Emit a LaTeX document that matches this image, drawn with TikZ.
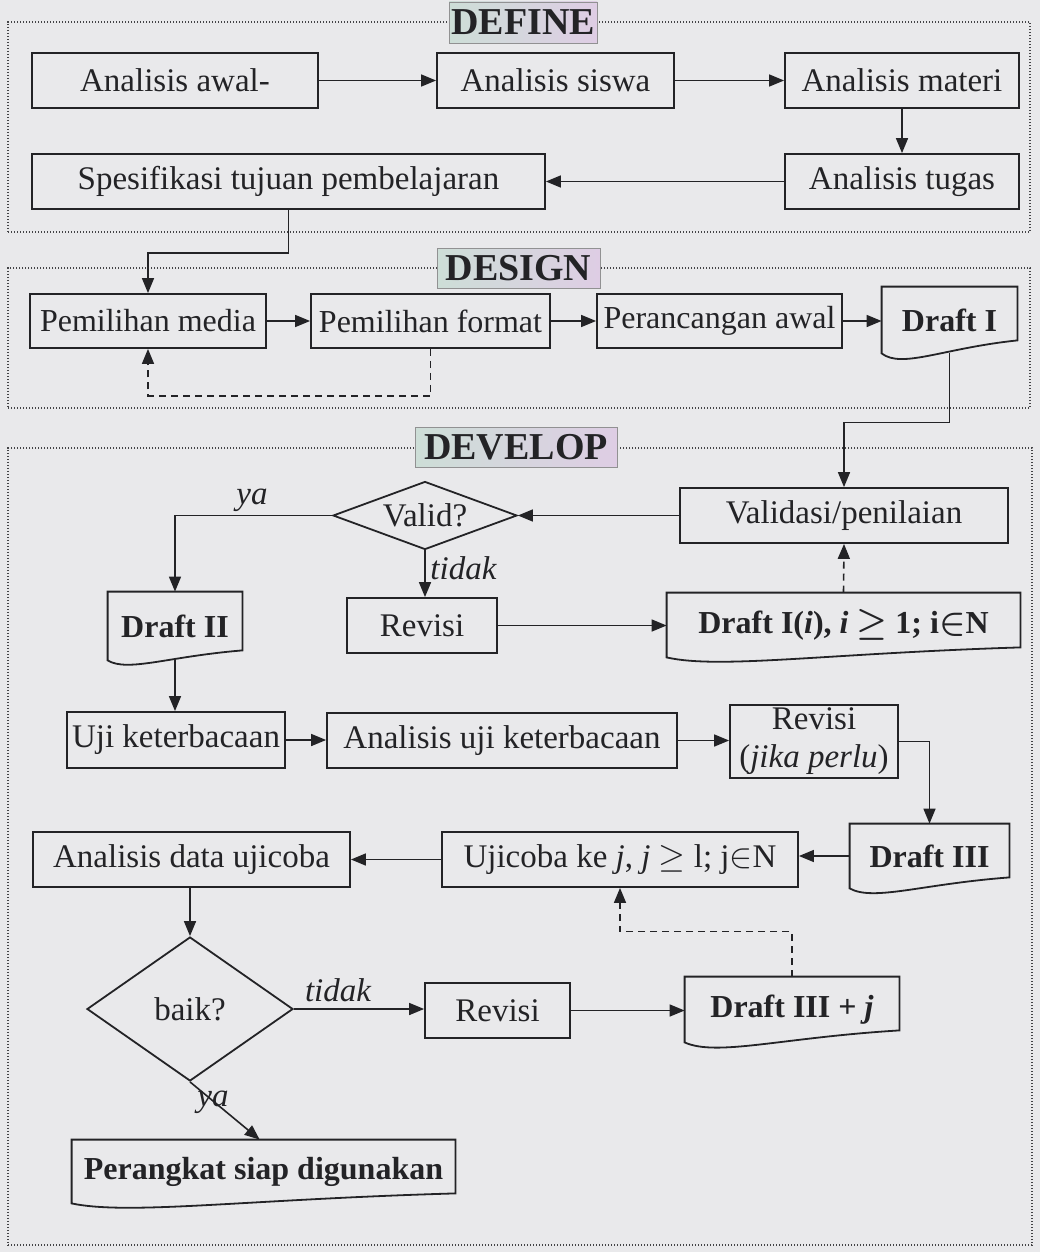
\documentclass[tikz,border=0pt]{standalone}
\usepackage{fontspec}
\setmainfont{Liberation Serif}
\usetikzlibrary{arrows.meta,shapes.geometric,fit,calc}
\definecolor{bg}{RGB}{233,233,235}
\definecolor{ink}{RGB}{35,35,38}
\definecolor{tleft}{RGB}{205,222,215}
\definecolor{tright}{RGB}{222,205,228}
\newcommand\bodyfont{\fontsize{16.5}{19}\selectfont}
\tikzset{
  box/.style={draw=ink, line width=0.9pt, inner sep=0pt, align=center, text=ink, font=\bodyfont},
  docnode/.style={inner sep=0pt, align=center, text=ink, font=\fontsize{16}{19}\selectfont\bfseries},
  arr/.style={draw=ink, line width=0.8pt, -{Triangle[length=7.5pt,width=6pt]}},
  darr/.style={arr, dash pattern=on 3.5pt off 2.5pt},
  frame/.style={draw=ink!85, line width=0.8pt, dash pattern=on 0.6pt off 0.9pt, inner sep=0pt},
  title/.style={draw=ink!50, line width=0.4pt, left color=tleft, right color=tright, text=ink,
    font=\fontsize{19}{22}\selectfont\bfseries, inner sep=0pt},
  dec/.style={diamond, draw=ink, line width=0.9pt, inner sep=0pt, text=ink, font=\bodyfont},
  lab/.style={font=\bodyfont\itshape, text=ink, inner sep=1pt},
}
\newcommand\docdraw[2]{%
  \draw[draw=ink,line width=0.9pt] (#1.south west) -- (#1.north west) -- (#1.north east)
   -- ([yshift=#2]#1.south east)
   .. controls ($(#1.south west)!0.45!(#1.south east)+(0pt,0.4*#2)$)
   and ($(#1.south west)!0.15!(#1.south east)+(0pt,-1.2*#2)$) .. cycle;}
\begin{document}
\begin{tikzpicture}[x=0.5pt,y=-0.5pt,font=\bodyfont]
\fill[bg] (0,0) rectangle (1040,1252);
\useasboundingbox (0,0) rectangle (1040,1252);

% frames
\node[frame, fit={(8,22)(1030,232)}] (fdef) {};
\node[frame, fit={(8,268)(1030,408)}] (fdes) {};
\node[frame, fit={(8,448)(1032,1245)}] (fdev) {};
\node[title, minimum width=74pt, minimum height=20.5pt] (tdef) at (523,22.5) {DEFINE};
\node[title, minimum width=81.5pt, minimum height=20pt] (tdes) at (518.5,268) {DESIGN};
\node[title, minimum width=101pt, minimum height=20pt] (tdev) at (516,447) {DEVELOP};

% DEFINE
\node[box, minimum width=143pt, minimum height=27.5pt] (aw) at (175,80.5) {Analisis awal-};
\node[box, minimum width=118.5pt, minimum height=27.5pt] (as) at (555.5,80.5) {Analisis siswa};
\node[box, minimum width=117pt, minimum height=27.5pt] (am) at (902,80.5) {Analisis materi};
\node[box, minimum width=117pt, minimum height=27.5pt] (at) at (902,181.5) {Analisis tugas};
\node[box, minimum width=256.5pt, minimum height=27.5pt] (sp) at (288.5,181.5) {Spesifikasi tujuan pembelajaran};

% DESIGN
\node[box, minimum width=118pt, minimum height=27pt, font=\fontsize{16}{19}\selectfont] (pm) at (148,321) {Pemilihan media};
\node[box, minimum width=119.5pt, minimum height=27pt, font=\fontsize{16}{19}\selectfont] (pf) at (430.5,321) {Pemilihan format};
\node[box, minimum width=122.5pt, minimum height=27pt, font=\fontsize{16}{19}\selectfont] (pa) at (719.5,321) {Perancangan awal};
\node[docnode, minimum width=67.5pt, minimum height=33pt] (d1) at (949.5,320) {Draft I};
\docdraw{d1}{6.5pt}

% DEVELOP
\node[box, minimum width=164pt, minimum height=27.5pt] (val) at (844,515.5) {Validasi/penilaian};
\node[dec, minimum width=92pt, minimum height=34pt, aspect=2.7] (vq) at (425,515.5) {Valid?};
\node[docnode, minimum width=67pt, minimum height=34pt] (d2) at (175,626) {Draft II};
\docdraw{d2}{5pt}
\node[box, minimum width=75pt, minimum height=27.5pt] (rv1) at (422,625.5) {Revisi};
\node[docnode, minimum width=176.5pt, minimum height=32pt] (di) at (843.5,625) {Draft I(\textit{i}), \textit{i} {\boldmath$\geq$} 1; i{\boldmath$\in$}N};
\docdraw{di}{5pt}
\node[box, minimum width=109pt, minimum height=28pt] (uk) at (176,740) {Uji keterbacaan};
\node[box, minimum width=175pt, minimum height=27.5pt] (au) at (502,740.5) {Analisis uji keterbacaan};
\node[box, minimum width=84pt, minimum height=36.5pt] (rj) at (814,741.5) {Revisi\\(\textit{jika perlu})};
\node[docnode, minimum width=79.5pt, minimum height=32pt] (d3) at (929.5,856) {Draft III};
\docdraw{d3}{5.5pt}
\node[box, minimum width=178pt, minimum height=27.5pt] (uj) at (620,859.5) {Ujicoba ke \textit{j}, \textit{j} $\geq$ l; j$\in$N};
\node[box, minimum width=158.5pt, minimum height=27.5pt] (ad) at (191.5,859.5) {Analisis data ujicoba};
\node[dec, minimum width=103pt, minimum height=72pt, aspect=1.43] (bq) at (190,1009) {baik?};
\node[box, minimum width=72.5pt, minimum height=27.5pt] (rv2) at (497.5,1010.5) {Revisi};
\node[docnode, minimum width=107pt, minimum height=32.5pt] (d3j) at (792,1009.5) {Draft III + \textit{j}};
\docdraw{d3j}{6pt}
\node[docnode, minimum width=191.5pt, minimum height=31.5pt] (ps) at (263.5,1171.5) {Perangkat siap digunakan};
\docdraw{ps}{5pt}

% connectors DEFINE
\draw[arr] (aw.east) -- (as.west);
\draw[arr] (as.east) -- (am.west);
\draw[arr] (am.south) -- (at.north);
\draw[arr] (at.west) -- (sp.east);
\draw[arr] (sp.south) -- ++(0,43) -| (pm.north);

% connectors DESIGN
\draw[arr] (pm.east) -- (pf.west);
\draw[arr] (pf.east) -- (pa.west);
\draw[arr] (pa.east) -- (pa.east -| d1.west);
\draw[darr] (pf.south) -- ++(0,47) -| (pm.south);
\draw[arr] (d1.south) -- ++(0,69) -| (val.north);

% connectors DEVELOP
\draw[arr] (val.west) -- (val.west -| vq.east);
\draw[arr] (vq.west) -| (d2.north);
\node[lab] (lya1) at (252,500) {ya};
\draw[arr] (vq.south) -- (vq.south |- rv1.north);
\node[lab, anchor=west] (ltd1) at (428,568) {tidak};
\draw[arr] (rv1.east) -- (rv1.east -| di.west);
\draw[darr] (di.north) -- (val.south);
\draw[arr] (d2.south) -- (d2.south |- uk.north);
\draw[arr] (uk.east) -- (uk.east -| au.west);
\draw[arr] (au.east) -- (au.east -| rj.west);
\draw[arr] (rj.east) -| (d3.north);
\draw[arr] (d3.west) -- (d3.west -| uj.east);
\draw[arr] (uj.west) -- (ad.east);
\draw[arr] (ad.south -| bq.north) -- (bq.north);
\draw[arr] (bq.east) -- (bq.east -| rv2.west);
\node[lab] (ltd2) at (338,990) {tidak};
\draw[arr] (rv2.east) -- (rv2.east -| d3j.west);
\draw[darr] (d3j.north) -- ++(0,-45) -| (uj.south);
\draw[arr] (bq.south) -- ($(ps.north west)!0.49!(ps.north east)$);
\node[lab] (lya2) at (213,1102) {ya};
\end{tikzpicture}
\end{document}
